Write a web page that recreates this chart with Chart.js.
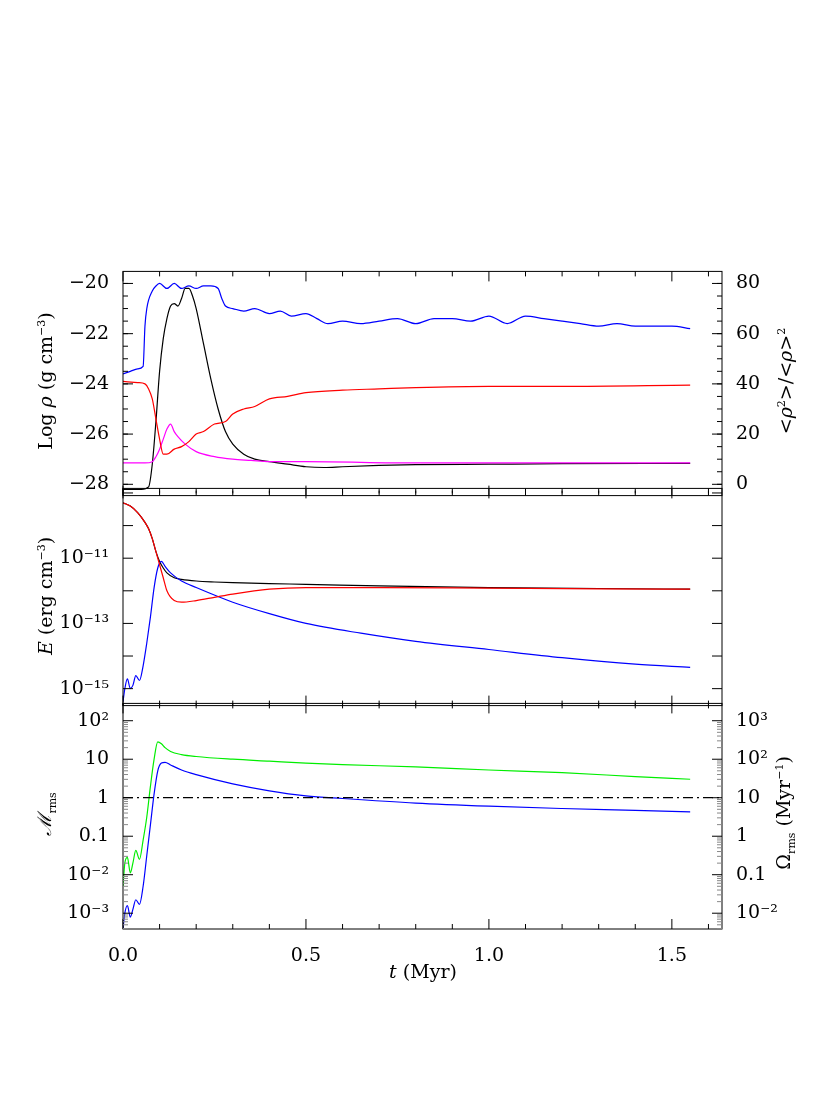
<!DOCTYPE html>
<html><head><meta charset="utf-8">
<script src="https://cdn.jsdelivr.net/npm/chart.js@4.4.1/dist/chart.umd.min.js"></script>
<style>
body{margin:0;background:#fff;width:830px;height:1093px;position:relative;overflow:hidden;font-family:"DejaVu Serif",serif;}
canvas{position:absolute;left:0;}
.lab{position:absolute;font-size:19px;color:#000;white-space:nowrap;transform-origin:center center;}
.lab sub,.lab sup{font-size:11px;}
</style></head><body>
<canvas id="c1"></canvas><canvas id="c2"></canvas><canvas id="c3"></canvas>
<div class="lab" style="left:-45px;top:370px;transform:rotate(-90deg);width:180px;text-align:center">Log <i>ρ</i> (g cm<sup>−3</sup>)</div>
<div class="lab" style="left:685px;top:370px;transform:rotate(-90deg);width:200px;text-align:center">&lt;<i>ρ</i><sup>2</sup>&gt;/&lt;<i>ρ</i>&gt;<sup>2</sup></div>
<div class="lab" style="left:-55px;top:585px;transform:rotate(-90deg);width:200px;text-align:center"><i>E</i> (erg cm<sup>−3</sup>)</div>
<div class="lab" style="left:-5px;top:800px;transform:rotate(-90deg);width:100px;text-align:center"><i>ℳ</i><sub>rms</sub></div>
<div class="lab" style="left:695px;top:800px;transform:rotate(-90deg);width:180px;text-align:center">Ω<sub>rms</sub> (Myr<sup>−1</sup>)</div>
<div class="lab" style="left:373px;top:960px;width:100px;text-align:center"><i>t</i> (Myr)</div>
<script>
// ---- top panel ----
const tBlue=[0,0.02,0.04,0.055,0.06,0.065,0.08,0.09,0.1,0.12,0.14,0.16,0.18,0.2,0.22,0.24,0.26,0.27,0.28,0.3,0.33,0.36,0.4,0.43,0.46,0.5,0.53,0.56,0.6,0.65,0.7,0.75,0.8,0.85,0.9,0.95,1.0,1.05,1.1,1.15,1.2,1.25,1.3,1.35,1.4,1.45,1.5,1.55];
const clumpBlue=[44,45,46,47,63,70,77,79,80,78,80,78,79,78,79,79,78,74,71,70,69,70,68,69,67,68,66,64,65,64,65,66,64,66,66,65,67,64,67,66,65,64,63,64,63,63,63,62];
const tBlack=[0,0.05,0.07,0.08,0.09,0.1,0.11,0.12,0.13,0.14,0.15,0.16,0.17,0.18,0.19,0.2,0.22,0.24,0.26,0.28,0.3,0.33,0.36,0.4,0.45,0.5,0.55,0.6,0.7,0.8,1.0,1.2,1.55];
const clumpBlack=[-2,-2,-1,8,25,45,58,66,71,72,71,74,78,78,75,70,56,42,30,21,16,12,10,9,8,7,6.7,7,7.5,7.8,8,8.2,8.3];
const tRed=[0,0.04,0.06,0.07,0.08,0.09,0.1,0.11,0.12,0.14,0.16,0.18,0.2,0.22,0.25,0.28,0.3,0.33,0.36,0.4,0.45,0.5,0.6,0.7,0.8,1.0,1.2,1.55];
const logRhoRed=[-23.9,-23.95,-24.0,-24.2,-24.6,-25.4,-26.2,-26.8,-26.8,-26.6,-26.5,-26.3,-26.0,-25.9,-25.6,-25.5,-25.2,-25.0,-24.9,-24.6,-24.5,-24.35,-24.25,-24.2,-24.15,-24.1,-24.1,-24.05];
const tMag=[0,0.06,0.08,0.09,0.1,0.11,0.12,0.13,0.14,0.15,0.17,0.2,0.25,0.3,0.35,0.4,0.5,0.8,1.2,1.55];
const logRhoMag=[-27.15,-27.15,-27.1,-26.9,-26.6,-26.2,-25.8,-25.6,-25.9,-26.1,-26.4,-26.7,-26.9,-27.0,-27.05,-27.1,-27.1,-27.15,-27.15,-27.15];
// ---- middle panel (log10 of E) ----
const tE=[0,0.02,0.04,0.06,0.07,0.08,0.09,0.1,0.11,0.12,0.14,0.16,0.2,0.25,0.3,0.4,0.5,0.7,1.0,1.3,1.55];
const logEtot=[-9.3,-9.4,-9.6,-9.9,-10.1,-10.4,-10.8,-11.1,-11.3,-11.45,-11.6,-11.65,-11.7,-11.73,-11.75,-11.78,-11.8,-11.85,-11.9,-11.93,-11.95];
const logEth=[-9.3,-9.4,-9.6,-9.9,-10.1,-10.4,-10.8,-11.2,-11.6,-12.0,-12.3,-12.35,-12.3,-12.2,-12.1,-11.95,-11.9,-11.9,-11.92,-11.94,-11.95];
const tEk=[0,0.005,0.012,0.02,0.027,0.035,0.045,0.055,0.065,0.075,0.085,0.095,0.105,0.115,0.13,0.16,0.2,0.3,0.4,0.5,0.65,0.8,1.0,1.2,1.4,1.55];
const logEkin=[-15.4,-15.0,-14.7,-15.0,-14.9,-14.6,-14.75,-14.3,-13.6,-12.8,-11.9,-11.3,-11.1,-11.25,-11.45,-11.7,-11.9,-12.35,-12.7,-13.0,-13.3,-13.55,-13.8,-14.05,-14.25,-14.35];
// ---- bottom panel ----
const tM=[0,0.005,0.012,0.02,0.027,0.035,0.045,0.055,0.065,0.075,0.085,0.095,0.105,0.115,0.13,0.16,0.2,0.3,0.4,0.5,0.6,0.8,1.0,1.2,1.4,1.55];
const logMach=[-3.4,-3.0,-2.8,-3.1,-2.9,-2.65,-2.77,-2.3,-1.5,-0.7,0.1,0.7,0.9,0.92,0.85,0.72,0.6,0.36,0.18,0.05,-0.02,-0.14,-0.22,-0.28,-0.33,-0.37];
const logOmega=[-1.3,-0.7,-0.55,-0.95,-0.7,-0.37,-0.6,-0.1,0.5,1.3,2.0,2.45,2.4,2.3,2.2,2.12,2.07,2.0,1.95,1.9,1.86,1.8,1.72,1.65,1.55,1.48];
const tDash=[0,1.64], machOne=[1,1];

const X0=0,X1=1.637,LW=123,RW=108,FONT='"DejaVu Serif", serif';
const pts=(t,v,f)=>t.map((x,i)=>({x,y:f?f(v[i]):v[i]}));
const p10=v=>Math.pow(10,v);

const inTicks={id:'inTicks',afterDraw(ch,a,o){
  const c=ch.ctx,A=ch.chartArea;c.save();c.strokeStyle='#000';c.lineWidth=1;
  c.strokeRect(A.left,A.top,A.right-A.left,A.bottom-A.top);
  const xs=ch.scales.x;
  const tk=(list,len,axis,sc,side)=>list.forEach(v=>{const p=sc.getPixelForValue(v);c.beginPath();
    if(axis==='x'){if(p<A.left-0.5||p>A.right+0.5)return;c.moveTo(p,A.top);c.lineTo(p,A.top+len);c.moveTo(p,A.bottom);c.lineTo(p,A.bottom-len);}
    else{if(p<A.top-0.5||p>A.bottom+0.5)return;const x=side==='l'?A.left:A.right,d=side==='l'?len:-len;c.moveTo(x,p);c.lineTo(x+d,p);}
    c.stroke();});
  tk(o.xMaj,10,'x',xs);tk(o.xMin,5,'x',xs);
  if(o.l){tk(o.l.maj,10,'y',ch.scales[o.l.id],'l');c.strokeStyle=o.l.minC||'#000';tk(o.l.min,5,'y',ch.scales[o.l.id],'l');c.strokeStyle='#000';}
  if(o.r){tk(o.r.maj,10,'y',ch.scales[o.r.id],'r');c.strokeStyle=o.r.minC||'#000';tk(o.r.min,5,'y',ch.scales[o.r.id],'r');}
  c.restore();}};
Chart.register(inTicks);

const xMaj=[0,0.5,1,1.5],xMin=[0.1,0.2,0.3,0.4,0.6,0.7,0.8,0.9,1.1,1.2,1.3,1.4,1.6];
function xScale(show){return {type:'linear',min:X0,max:X1,display:show,grid:{display:false},border:{display:false},
  afterBuildTicks:s=>{s.ticks=xMaj.map(v=>({value:v}));},
  ticks:{color:'#000',font:{family:FONT,size:19},padding:8,callback:v=>v.toFixed(1)},
  afterFit:s=>{if(show)s.height=60;}};}
function yScale(pos,type,min,max,vals,labels,showLab){return {type,position:pos,min,max,grid:{display:false},border:{display:false},
  afterBuildTicks:s=>{s.ticks=vals.map(v=>({value:v}));},
  ticks:{display:showLab,color:'#000',font:{family:FONT,size:19},padding:6,autoSkip:false,callback:(v,i)=>labels[i]},
  afterFit:s=>{s.width=pos==='left'?LW:RW;}};}
const ds=(data,color,axis,extra)=>Object.assign({data,borderColor:color,borderWidth:1.2,pointRadius:0,cubicInterpolationMode:'monotone',yAxisID:axis,fill:false},extra||{});
const common={responsive:false,animation:false,parsing:false,plugins:{legend:{display:false},tooltip:{enabled:false}}};
function mk(id,top,h,cfg){const el=document.getElementById(id);el.width=830;el.height=h;el.style.top=top+'px';return new Chart(el,cfg);}
const logMinor=(a,b)=>{const r=[];for(let e=a;e<b;e++)for(let k=2;k<10;k++)r.push(k*Math.pow(10,e));return r;};
const range=(a,b,s)=>{const r=[];for(let v=a;v<=b+1e-9;v+=s)r.push(+v.toFixed(3));return r;};

mk('c1',254,259,{type:'line',data:{datasets:[
  ds(pts(tRed,logRhoRed),'#ff0000','y'),ds(pts(tMag,logRhoMag),'#ff00ff','y'),
  ds(pts(tBlack,clumpBlack),'#000000','y2'),ds(pts(tBlue,clumpBlue),'#0000ff','y2')]},
  options:Object.assign({},common,{layout:{padding:{top:10,bottom:10,left:0,right:0}},
  scales:{x:xScale(false),y:yScale('left','linear',-28.45,-19.52,[-28,-26,-24,-22,-20],['−28','−26','−24','−22','−20'],true),
    y2:yScale('right','linear',-4.5,84.8,[0,20,40,60,80],['0','20','40','60','80'],true)},
  plugins:Object.assign({},common.plugins,{inTicks:{xMaj,xMin,l:{id:'y',maj:[-28,-26,-24,-22,-20],min:range(-28,-20,0.5)},r:{id:'y2',maj:[0,20,40,60,80],min:range(0,80,5)}}})})});

const eMaj=[1e-9,1e-10,1e-11,1e-12,1e-13,1e-14,1e-15];
mk('c2',471,252,{type:'line',data:{datasets:[
  ds(pts(tE,logEth,p10),'#ff0000','y'),ds(pts(tEk,logEkin,p10),'#0000ff','y'),ds(pts(tE,logEtot,p10),'#000000','y')]},
  options:Object.assign({},common,{layout:{padding:{top:10,bottom:10,left:0,right:0}},
  scales:{x:xScale(false),y:yScale('left','logarithmic',p10(-15.52),p10(-8.86),[1e-11,1e-13,1e-15],['10⁻¹¹','10⁻¹³','10⁻¹⁵'],true),
    y2:yScale('right','logarithmic',p10(-15.52),p10(-8.86),[],[],false)},
  plugins:Object.assign({},common.plugins,{inTicks:{xMaj,xMin,l:{id:'y',maj:eMaj,min:[]},r:{id:'y',maj:eMaj,min:[]}}})})});

const mVals=[100,10,1,0.1,0.01,0.001],mLab=['10²','10','1','0.1','10⁻²','10⁻³'];
const oVals=[1000,100,10,1,0.1,0.01],oLab=['10³','10²','10','1','0.1','10⁻²'];
mk('c3',686,303,{type:'line',data:{datasets:[
  ds(pts(tDash,machOne),'#000000','y',{borderDash:[10,4,2,4],cubicInterpolationMode:'default',tension:0}),
  ds(pts(tM,logOmega,p10),'#00ee00','y2'),ds(pts(tM,logMach,p10),'#0000ff','y')]},
  options:Object.assign({},common,{layout:{padding:{top:0,bottom:0,left:0,right:0}},
  scales:{x:xScale(true),y:yScale('left','logarithmic',p10(-3.41),p10(2.45),mVals,mLab,true),
    y2:yScale('right','logarithmic',p10(-2.41),p10(3.45),oVals,oLab,true)},
  plugins:Object.assign({},common.plugins,{inTicks:{xMaj,xMin,l:{id:'y',maj:mVals,min:logMinor(-4,2),minC:'#888'},r:{id:'y2',maj:oVals,min:logMinor(-3,3),minC:'#888'}}})})});
</script></body></html>
